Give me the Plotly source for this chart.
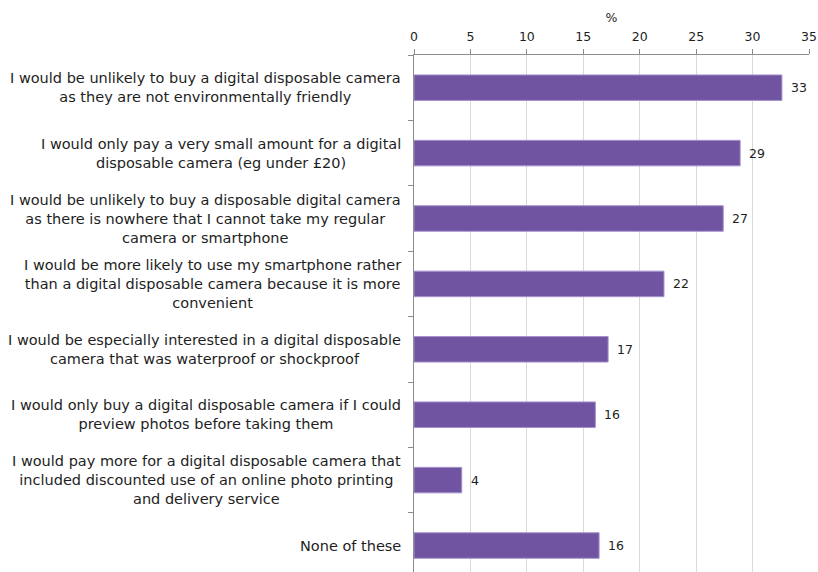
import plotly.graph_objects as go

categories = [
    "I would be unlikely to buy a digital disposable camera<br>as they are not environmentally friendly",
    "I would only pay a very small amount for a digital<br>disposable camera (eg under £20)",
    "I would be unlikely to buy a disposable digital camera<br>as there is nowhere that I cannot take my regular<br>camera or smartphone",
    "I would be more likely to use my smartphone rather<br>than a digital disposable camera because it is more<br>convenient",
    "I would be especially interested in a digital disposable<br>camera that was waterproof or shockproof",
    "I would only buy a digital disposable camera if I could<br>preview photos before taking them",
    "I would pay more for a digital disposable camera that<br>included discounted use of an online photo printing<br>and delivery service",
    "None of these",
]
values = [32.6, 28.9, 27.4, 22.15, 17.2, 16.07, 4.23, 16.4]
value_labels = ["33", "29", "27", "22", "17", "16", "4", "16"]
x_ticks = [0, 5, 10, 15, 20, 25, 30, 35]

FONT = "DejaVu Sans, Verdana, sans-serif"
TXT = "#1e1e1e"

fig = go.Figure()
fig.add_trace(go.Bar(
    x=values, y=categories, orientation="h",
    marker=dict(color="#7053A1", line=dict(color="#A592CC", width=1)),
    width=0.39, hoverinfo="skip",
))

annotations = []
for c, v, lab in zip(categories, values, value_labels):
    annotations.append(dict(
        x=0, xref="paper", y=c, yref="y", text=c, showarrow=False,
        xanchor="right", yanchor="middle", align="center", xshift=-11,
        font=dict(family=FONT, size=14.5, color=TXT),
    ))
    annotations.append(dict(
        x=v, xref="x", y=c, yref="y", text=lab, showarrow=False,
        xanchor="left", yanchor="middle", xshift=7,
        font=dict(family=FONT, size=12.5, color=TXT),
    ))

fig.update_layout(
    width=818, height=572,
    margin=dict(l=414, r=9, t=55, b=0),
    paper_bgcolor="white", plot_bgcolor="white",
    showlegend=False,
    annotations=annotations,
    font=dict(family=FONT, color=TXT),
)
fig.update_xaxes(
    side="top", range=[0, 35], tickvals=x_ticks, ticktext=[str(t) for t in x_ticks],
    showgrid=True, gridcolor="#D9D9D9", gridwidth=1,
    showline=True, linecolor="#8C8C8C", linewidth=1,
    ticks="outside", ticklen=5, tickcolor="#8C8C8C",
    ticklabelstandoff=3,
    tickfont=dict(family=FONT, size=12.5, color=TXT),
    title=dict(text="%", font=dict(family=FONT, size=12.5, color=TXT), standoff=3),
    zeroline=False, fixedrange=True,
)
fig.update_yaxes(
    categoryorder="array", categoryarray=categories,
    range=[7.405, -0.5], showticklabels=False,
    showline=True, linecolor="#8C8C8C", linewidth=1,
    ticks="outside", ticklen=5, tickcolor="#8C8C8C", tickson="boundaries",
    showgrid=False, zeroline=False, fixedrange=True,
)

fig.write_html("out.html", config={"displayModeBar": False})
